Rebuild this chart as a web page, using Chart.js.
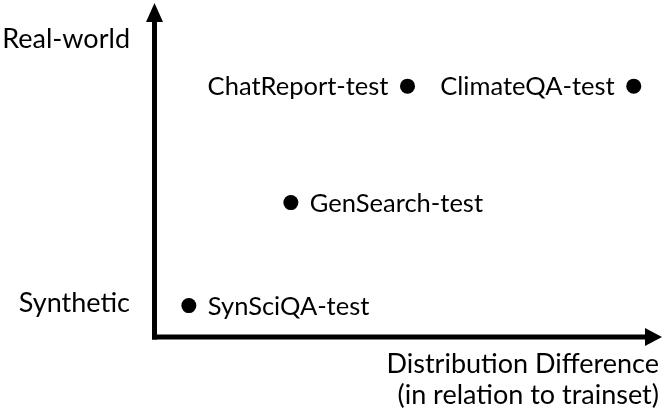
<!DOCTYPE html>
<html>
<head>
<meta charset="utf-8">
<script src="https://cdn.jsdelivr.net/npm/chart.js@4/dist/chart.umd.min.js"></script>
<style>
html,body{margin:0;padding:0;background:#fff;}
#wrap{width:665px;height:414px;position:relative;}
</style>
</head>
<body>
<div id="wrap"><canvas id="c"></canvas></div>
<script>
// ---- data ----
const datasetNames = ['SynSciQA-test', 'GenSearch-test', 'ChatReport-test', 'ClimateQA-test'];
const xValues = [0.69, 2.71, 5.02, 9.5];   // distribution difference (relative)
const yValues = [1.03, 4.41, 8.23, 8.23];  // synthetic -> real-world
const yTickValues = [1.09, 9.78];
const yTickLabels = ['Synthetic', 'Real-world'];
const xTitleLines = ['Distribution Difference', '(in relation to trainset)'];
// label placement relative to point
const labelSide = ['right', 'right', 'left', 'left'];

const FONT = 'Lato';
const FS_POINT = 25.5;
const FS_AXIS = 27;

const points = xValues.map((x, i) => ({x: x, y: yValues[i]}));

const arrowAxes = {
  id: 'arrowAxes',
  afterDraw(chart) {
    const {ctx, chartArea: a} = chart;
    ctx.save();
    ctx.fillStyle = '#000';
    ctx.strokeStyle = '#000';
    ctx.lineWidth = 5;
    const vx = a.left + 0.5, hy = a.bottom;
    ctx.beginPath();
    ctx.moveTo(vx, hy + 2.5);
    ctx.lineTo(vx, 20);
    ctx.stroke();
    ctx.beginPath();
    ctx.moveTo(vx - 8.5, 22);
    ctx.lineTo(vx + 8.5, 22);
    ctx.lineTo(vx, 3);
    ctx.closePath();
    ctx.fill();
    ctx.beginPath();
    ctx.moveTo(vx - 2.5, hy);
    ctx.lineTo(a.right - 12, hy);
    ctx.stroke();
    ctx.beginPath();
    ctx.moveTo(a.right - 14, hy - 9);
    ctx.lineTo(a.right - 14, hy + 9);
    ctx.lineTo(a.right + 3, hy);
    ctx.closePath();
    ctx.fill();
    ctx.restore();
  }
};

const pointLabels = {
  id: 'pointLabels',
  afterDatasetsDraw(chart) {
    const {ctx} = chart;
    const meta = chart.getDatasetMeta(0);
    ctx.save();
    ctx.fillStyle = '#000';
    ctx.font = FS_POINT + 'px ' + FONT;
    ctx.textBaseline = 'middle';
    meta.data.forEach((el, i) => {
      const side = labelSide[i];
      ctx.textAlign = side === 'right' ? 'left' : 'right';
      const dx = side === 'right' ? 19 : -19;
      ctx.fillText(datasetNames[i], el.x + dx, el.y + 1);
    });
    ctx.restore();
  }
};

new Chart(document.getElementById('c'), {
  type: 'scatter',
  data: {
    datasets: [{
      label: 'Test sets',
      data: points,
      pointRadius: 7.5,
      pointHoverRadius: 7.5,
      backgroundColor: '#000',
      borderWidth: 0
    }]
  },
  options: {
    responsive: true,
    maintainAspectRatio: false,
    animation: false,
    events: [],
    layout: {autoPadding: false, padding: {top: 0, right: 6, bottom: 0, left: 0}},
    plugins: {legend: {display: false}, tooltip: {enabled: false}},
    scales: {
      x: {
        type: 'linear',
        min: 0, max: 10,
        grid: {display: false},
        border: {display: false},
        ticks: {display: false},
        title: {
          display: true,
          text: xTitleLines,
          align: 'end',
          color: '#000',
          font: {family: FONT, size: FS_AXIS, lineHeight: 1.12},
          padding: {top: 0, bottom: 4}
        },
        afterFit(scale) { scale.height = 77; }
      },
      y: {
        type: 'linear',
        min: 0, max: 10,
        grid: {display: false},
        border: {display: false},
        afterBuildTicks(scale) { scale.ticks = yTickValues.map(v => ({value: v})); },
        ticks: {
          color: '#000',
          padding: 16,
          font: {family: FONT, size: FS_AXIS},
          callback(value) {
            const i = yTickValues.indexOf(value);
            return i >= 0 ? yTickLabels[i] : '';
          }
        },
        afterFit(scale) { scale.width = 154; }
      }
    }
  },
  plugins: [arrowAxes, pointLabels]
});
</script>
</body>
</html>
